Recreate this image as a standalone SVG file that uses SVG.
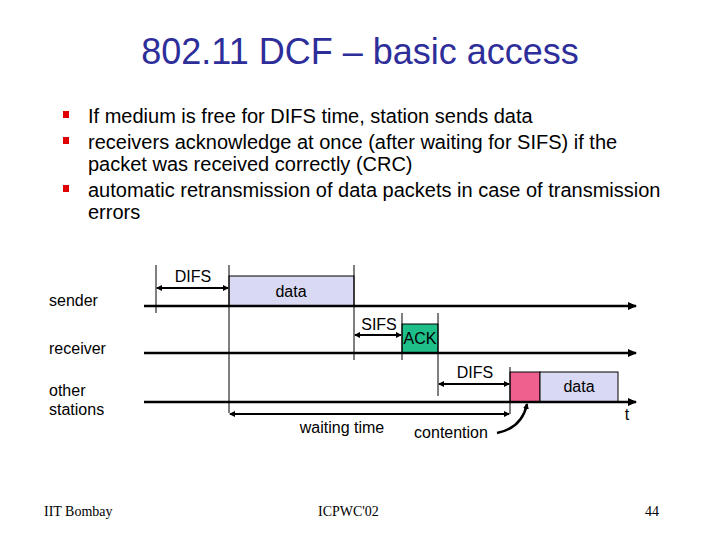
<svg xmlns="http://www.w3.org/2000/svg" width="720" height="540" viewBox="0 0 720 540">
<style>
text{font-family:"Liberation Sans",Arial,sans-serif;fill:#000}
.t{font-size:16px}
.b{font-size:20px}
.ft{font-family:"Liberation Serif","Times New Roman",serif;font-size:14px}
.tl{stroke:#000;stroke-width:2.5;fill:none}
.v{stroke:#000;stroke-width:1;fill:none}
.a{stroke:#000;stroke-width:2;fill:none}
</style>
<defs>
<marker id="ah" markerWidth="6" markerHeight="6" refX="5" refY="3" orient="auto" markerUnits="userSpaceOnUse"><path d="M0,0 L6,3 L0,6 z" fill="#000"/></marker>
<marker id="ahs" markerWidth="6" markerHeight="6" refX="1" refY="3" orient="auto" markerUnits="userSpaceOnUse"><path d="M6,0 L0,3 L6,6 z" fill="#000"/></marker>
<marker id="big" markerWidth="9" markerHeight="8" refX="8" refY="4" orient="auto" markerUnits="userSpaceOnUse"><path d="M0,0 L9,4 L0,8 z" fill="#000"/></marker>
</defs>
<rect width="720" height="540" fill="#fff"/>
<text x="360" y="64" text-anchor="middle" style="font-size:36px;fill:#2e2e9a">802.11 DCF – basic access</text>
<g id="bullets">
<rect x="63" y="111" width="6" height="7" fill="#e00000"/>
<rect x="63" y="137" width="6" height="7" fill="#e00000"/>
<rect x="63" y="185" width="6" height="7" fill="#e00000"/>
<text class="b" x="88" y="123">If medium is free for DIFS time, station sends data</text>
<text class="b" x="88" y="149">receivers acknowledge at once (after waiting for SIFS) if the</text>
<text class="b" x="88" y="171">packet was received correctly (CRC)</text>
<text class="b" x="88" y="197">automatic retransmission of data packets in case of transmission</text>
<text class="b" x="88" y="219">errors</text>
</g>
<g id="labels">
<text class="t" x="49" y="306">sender</text>
<text class="t" x="49" y="354">receiver</text>
<text class="t" x="49" y="396">other</text>
<text class="t" x="49" y="415">stations</text>
</g>
<g id="boxes">
<rect id="data1" x="229" y="276" width="125" height="30" fill="#d9d9f3" stroke="#000" stroke-width="1"/>
<text class="t" x="291" y="297" text-anchor="middle">data</text>
<rect id="ack" x="402" y="324" width="36" height="29" fill="#1fbf8a" stroke="#000" stroke-width="1"/>
<text class="t" x="420" y="344" text-anchor="middle">ACK</text>
<rect id="cont" x="510" y="372" width="30" height="30" fill="#f0608f" stroke="#000" stroke-width="1"/>
<rect id="data2" x="540" y="372" width="78" height="30" fill="#d9d9f3" stroke="#000" stroke-width="1"/>
<text class="t" x="579" y="392" text-anchor="middle">data</text>
</g>
<g id="connectors">
<line class="tl" x1="144" y1="306" x2="636" y2="306" marker-end="url(#big)"/>
<line class="tl" x1="144" y1="353" x2="636" y2="353" marker-end="url(#big)"/>
<line class="tl" x1="144" y1="402" x2="636" y2="402" marker-end="url(#big)"/>
<line class="v" x1="156" y1="265" x2="156" y2="313"/>
<line class="v" x1="229" y1="265" x2="229" y2="413"/>
<line class="v" x1="354" y1="265" x2="354" y2="360"/>
<line class="v" x1="402" y1="313" x2="402" y2="360"/>
<line class="v" x1="438" y1="313" x2="438" y2="396"/>
<line class="v" x1="510" y1="367" x2="510" y2="414"/>
<line class="a" x1="157" y1="288" x2="228" y2="288" marker-start="url(#ahs)" marker-end="url(#ah)"/>
<line class="a" x1="355" y1="335" x2="401" y2="335" marker-start="url(#ahs)" marker-end="url(#ah)"/>
<line class="a" x1="439" y1="384" x2="509" y2="384" marker-start="url(#ahs)" marker-end="url(#ah)"/>
<line class="a" x1="230" y1="414" x2="509" y2="414" marker-start="url(#ahs)" marker-end="url(#ah)"/>
<path d="M497,433 Q522,428 527,404" stroke="#000" stroke-width="2.5" fill="none" marker-end="url(#ah)"/>
</g>
<g id="diagram-text">
<text class="t" x="193" y="282" text-anchor="middle">DIFS</text>
<text class="t" x="379" y="330" text-anchor="middle">SIFS</text>
<text class="t" x="475" y="378" text-anchor="middle">DIFS</text>
<text class="t" x="342" y="433" text-anchor="middle">waiting time</text>
<text class="t" x="451" y="438" text-anchor="middle">contention</text>
<text class="t" x="627" y="420" text-anchor="middle">t</text>
</g>
<g id="footer">
<text class="ft" x="44" y="516">IIT Bombay</text>
<text class="ft" x="318" y="516">ICPWC'02</text>
<text class="ft" x="659" y="516" text-anchor="end">44</text>
</g>
</svg>
